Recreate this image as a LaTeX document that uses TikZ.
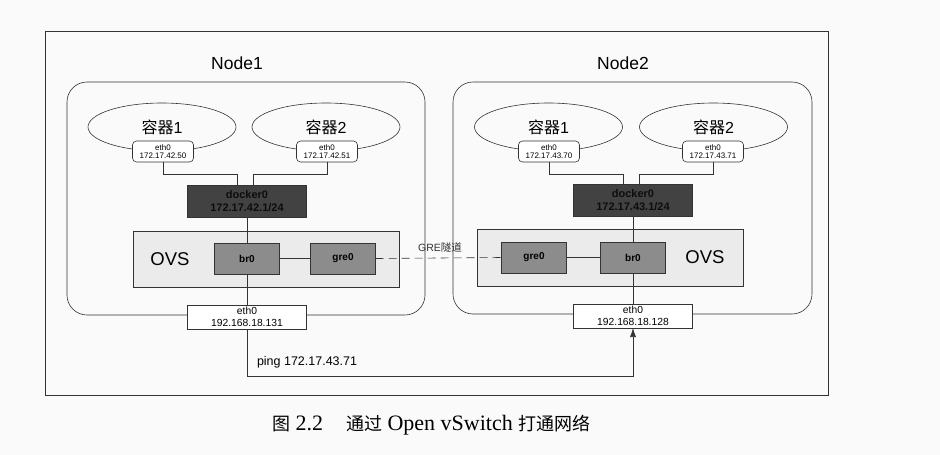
\documentclass[tikz,border=0pt]{standalone}
\usepackage{fontspec}
\setmainfont{Liberation Serif}
\setsansfont{Liberation Sans}
\newfontfamily\cjk{Noto Sans CJK SC}
\newcommand{\capcjk}[1]{{\cjk\fontsize{18}{20}\selectfont #1}}
\usetikzlibrary{shapes.geometric,arrows.meta,calc}
\begin{document}
\begin{tikzpicture}[x=1pt,y=-1pt,
  every node/.style={inner sep=0pt, outer sep=0pt},
  ln/.style={draw=black!80, line width=0.6pt},
  hostbox/.style={ln, rounded corners=20pt},
  ctr/.style={ln, ellipse, minimum width=148pt, minimum height=48pt, font=\sffamily\fontsize{16}{18}\selectfont},
  cif/.style={ln, fill=white, rounded corners=4pt, minimum width=61pt, minimum height=21pt, align=center, font=\sffamily\fontsize{8}{8.6}\selectfont},
  dock/.style={ln, fill=black!74, minimum width=119pt, minimum height=32pt, align=center, text=black!95, font=\sffamily\bfseries\fontsize{11}{13}\selectfont},
  ovs/.style={ln, fill=black!8, minimum width=266pt, minimum height=56pt},
  port/.style={ln, fill=black!45, minimum width=65pt, minimum height=31pt, font=\sffamily\bfseries\fontsize{10}{12}\selectfont},
  hif/.style={ln, fill=white, minimum width=119pt, minimum height=24pt, align=center, font=\sffamily\fontsize{10.3}{12}\selectfont},
  big/.style={font=\sffamily\fontsize{17.5}{20}\selectfont},
  captext/.style={anchor=west, font=\fontsize{22}{24}\selectfont}
]
\useasboundingbox (0,0) rectangle (940,455);
\fill[black!2] (0,0) rectangle (940,455);

% outer frame
\node[ln, minimum width=783pt, minimum height=364pt] (frame) at (437,213) {};

% hosts
\node[big] (n1t) at (237,63) {Node1};
\node[big] (n2t) at (623,63) {Node2};
\node[hostbox, minimum width=358pt, minimum height=233pt] (n1) at (246,198.5) {};
\node[hostbox, minimum width=359pt, minimum height=232pt] (n2) at (632.5,198) {};

% containers node1
\node[ctr] (L1) at (162,127) {{\cjk 容器}1};
\node[ctr] (L2) at (326,127) {{\cjk 容器}2};
\node[cif] (L1e) at (163,151.5) {eth0\\172.17.42.50};
\node[cif] (L2e) at (327,151.5) {eth0\\172.17.42.51};
% containers node2
\node[ctr] (R1) at (548.5,127) {{\cjk 容器}1};
\node[ctr] (R2) at (713.5,127) {{\cjk 容器}2};
\node[cif] (R1e) at (549,151.5) {eth0\\172.17.43.70};
\node[cif] (R2e) at (713,151.5) {eth0\\172.17.43.71};

% docker0
\node[dock] (Ld) at (247,201) {docker0\\172.17.42.1/24};
\node[dock] (Rd) at (633,200) {docker0\\172.17.43.1/24};

\coordinate (La) at (237,174);
\coordinate (Lb) at (253,174);
\coordinate (Ra) at (623,174);
\coordinate (Rb) at (639,174);
\draw[ln] (L1e.south) |- (La) -- (La |- Ld.north);
\draw[ln] (L2e.south) |- (Lb) -- (Lb |- Ld.north);
\draw[ln] (R1e.south) |- (Ra) -- (Ra |- Rd.north);
\draw[ln] (R2e.south) |- (Rb) -- (Rb |- Rd.north);

% OVS
\node[ovs] (Lo) at (266,259) {};
\node[ovs, minimum height=57pt] (Ro) at (610,257.5) {};
\node[font=\sffamily\fontsize{18.5}{20}\selectfont] (Lot) at (170,259) {OVS};
\node[font=\sffamily\fontsize{18.5}{20}\selectfont] (Rot) at (705,257) {OVS};
\node[port] (Lbr) at (247,258.5) {br0};
\node[port] (Lg) at (343,258.5) {gre0};
\node[port] (Rg) at (534,257.5) {gre0};
\node[port] (Rbr) at (633,257.5) {br0};

% host eth0
\node[hif] (Lh) at (247,317) {eth0\\192.168.18.131};
\node[hif] (Rh) at (633,316) {eth0\\192.168.18.128};

% links
\draw[ln] (Ld.south) -- (Lbr.north);
\draw[ln] (Rd.south) -- (Rbr.north);
\draw[ln] (Lbr.south) -- (Lh.north);
\draw[ln] (Rbr.south) -- (Rh.north);
\draw[ln] (Lbr.east) -- (Lg.west);
\draw[ln] (Rg.east) -- (Rbr.west);
\draw[ln, dash pattern=on 8pt off 5pt] (Lg.east) -- (Rg.west);
\node[font=\sffamily\fontsize{10.5}{12}\selectfont, text=black!80] (gre) at (440,247) {GRE{\cjk 隧道}};

% ping
\coordinate (pc) at (247,376);
\draw[ln, -{Latex[length=9pt,width=6pt]}] (Lh.south) -- (pc) -| (Rh.south);
\node[anchor=west, font=\sffamily\fontsize{12.5}{14}\selectfont] (ping) at (257,362) {ping 172.17.43.71};

% caption
\node[captext] (cap) at (272,425) {\capcjk{图} 2.2\hspace{23pt}\capcjk{通过} Open vSwitch \capcjk{打通网络}};
\end{tikzpicture}
\end{document}
